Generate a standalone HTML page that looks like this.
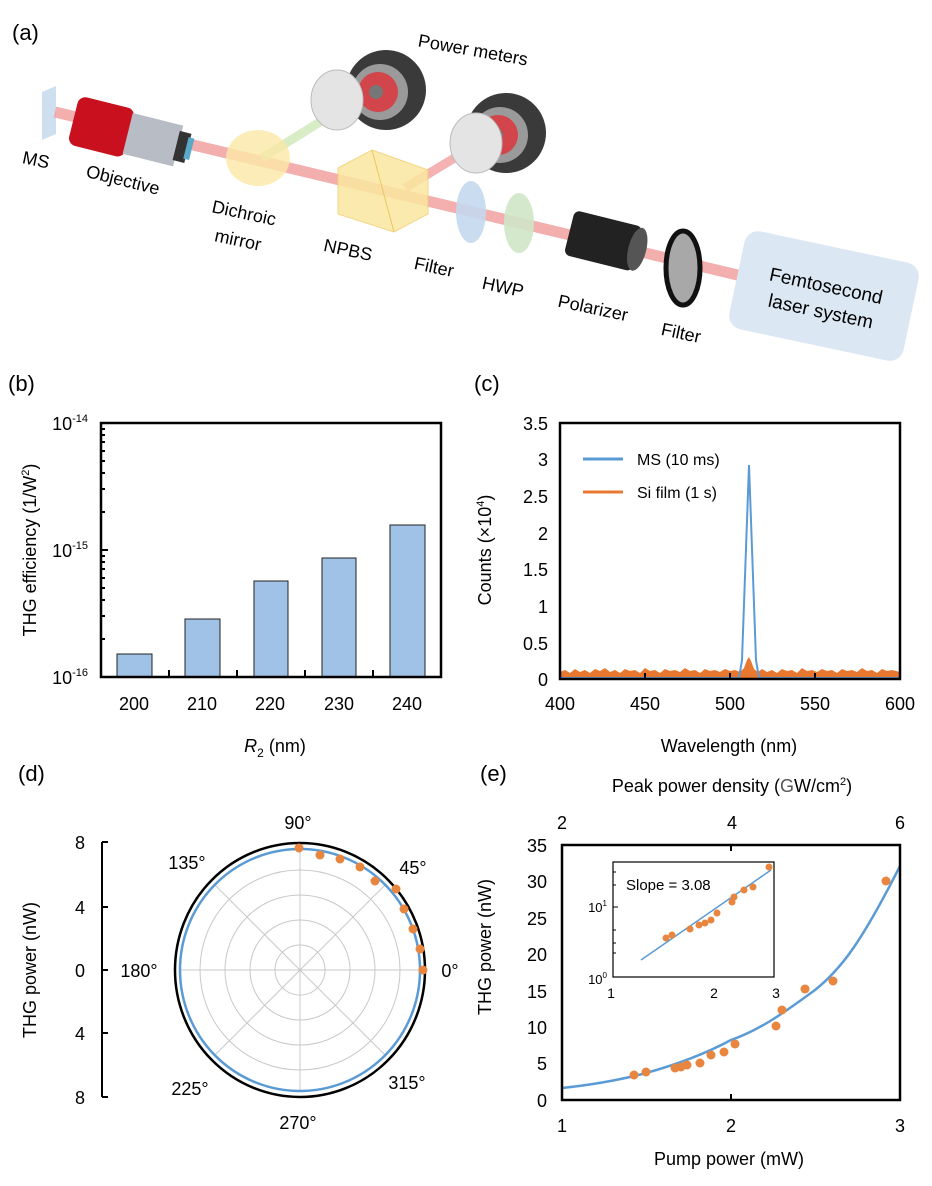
<!DOCTYPE html>
<html><head><meta charset="utf-8"><style>
body{margin:0;background:#fff}
svg{display:block;font-family:"Liberation Sans",Arial,sans-serif}
</style></head><body>
<svg width="932" height="1186" viewBox="0 0 932 1186" xmlns="http://www.w3.org/2000/svg">
<rect width="932" height="1186" fill="#fff"/>
<!-- (a) -->
<text x="12" y="40" font-size="22">(a)</text>
<g>
<polygon points="42,92 56,86 56,134 42,140" fill="#c9dbee" opacity="0.9"/>
<line x1="55" y1="112" x2="750" y2="278" stroke="#f2a0a0" stroke-width="11" opacity="0.85"/>
<line x1="262" y1="158" x2="352" y2="102" stroke="#cfe8b8" stroke-width="9" opacity="0.8"/>
<line x1="405" y1="188" x2="494" y2="134" stroke="#f2a0a0" stroke-width="9" opacity="0.8"/>
<g transform="rotate(14 110 130)">
<rect x="72" y="104" width="58" height="50" rx="8" fill="#c8101e"/>
<rect x="128" y="108" width="52" height="42" fill="#b8bcc4"/>
<rect x="178" y="114" width="12" height="30" fill="#333"/>
<rect x="188" y="118" width="6" height="22" fill="#5aa9c9"/>
</g>
<ellipse cx="258" cy="158" rx="32" ry="28" fill="#fbe9a6" opacity="0.8"/>
<circle cx="386" cy="90" r="40" fill="#3a3a3a"/><circle cx="380" cy="92" r="28" fill="#9a9a9a"/><circle cx="378" cy="92" r="20" fill="#d2454a"/><circle cx="376" cy="92" r="7" fill="#777"/>
<ellipse cx="337" cy="100" rx="26" ry="30" fill="#e4e4e4" stroke="#bbb"/>
<circle cx="506" cy="133" r="40" fill="#3a3a3a"/><circle cx="500" cy="135" r="28" fill="#9a9a9a"/><circle cx="498" cy="135" r="20" fill="#d2454a"/><circle cx="496" cy="135" r="7" fill="#777"/>
<ellipse cx="476" cy="143" rx="26" ry="30" fill="#e4e4e4" stroke="#bbb"/>
<polygon points="338,168 372,150 428,170 428,214 394,232 338,214" fill="#fbe7a0" opacity="0.85" stroke="#f0d070"/>
<line x1="372" y1="150" x2="394" y2="232" stroke="#e8c860"/>
<ellipse cx="471" cy="212" rx="15" ry="31" fill="#c4d8ee" opacity="0.9"/>
<ellipse cx="519" cy="223" rx="15" ry="30" fill="#cfe5c6" opacity="0.9"/>
<g transform="rotate(14 604 242)"><rect x="568" y="218" width="70" height="46" rx="6" fill="#222"/><ellipse cx="638" cy="241" rx="9" ry="22" fill="#555"/></g>
<ellipse cx="683" cy="268" rx="17" ry="37" fill="#a8a8a8" stroke="#111" stroke-width="5"/>
<g transform="rotate(12 824 296)"><rect x="735" y="246" width="178" height="100" rx="14" fill="#dbe7f3"/>
<text x="824" y="292" font-size="19" text-anchor="middle">Femtosecond</text>
<text x="824" y="318" font-size="19" text-anchor="middle">laser system</text></g>
</g>
<g font-size="18" text-anchor="middle">
<text x="36" y="166" transform="rotate(12 36 160)">MS</text>
<text x="123" y="186" transform="rotate(14 123 180)">Objective</text>
<text x="244" y="219" transform="rotate(12 244 213)">Dichroic</text>
<text x="238" y="246" transform="rotate(12 238 240)">mirror</text>
<text x="348" y="256" transform="rotate(12 348 250)">NPBS</text>
<text x="434" y="273" transform="rotate(12 434 267)">Filter</text>
<text x="503" y="293" transform="rotate(12 503 287)">HWP</text>
<text x="593" y="314" transform="rotate(12 593 308)">Polarizer</text>
<text x="681" y="339" transform="rotate(12 681 333)">Filter</text>
<text x="473" y="56" transform="rotate(10 473 50)">Power meters</text>
</g>

<!-- (b) -->
<text x="8" y="391" font-size="22">(b)</text>
<g fill="#9fc2e6" stroke="#222" stroke-width="1">
<rect x="117" y="654" width="35" height="23"/>
<rect x="185" y="619" width="35" height="58"/>
<rect x="254" y="581" width="34" height="96"/>
<rect x="322" y="558" width="34" height="119"/>
<rect x="390" y="525" width="35" height="152"/>
</g>
<rect x="101" y="423" width="340" height="254" fill="none" stroke="#000" stroke-width="2.5"/>
<g stroke="#000" stroke-width="2">
<line x1="169" y1="677" x2="169" y2="670"/><line x1="237" y1="677" x2="237" y2="670"/><line x1="305" y1="677" x2="305" y2="670"/><line x1="373" y1="677" x2="373" y2="670"/>
<line x1="101" y1="550" x2="108" y2="550"/>
<line x1="101" y1="639" x2="105" y2="639"/><line x1="101" y1="616" x2="105" y2="616"/><line x1="101" y1="600" x2="105" y2="600"/><line x1="101" y1="588" x2="105" y2="588"/><line x1="101" y1="578" x2="105" y2="578"/><line x1="101" y1="569" x2="105" y2="569"/><line x1="101" y1="562" x2="105" y2="562"/><line x1="101" y1="556" x2="105" y2="556"/>
<line x1="101" y1="512" x2="105" y2="512"/><line x1="101" y1="489" x2="105" y2="489"/><line x1="101" y1="473" x2="105" y2="473"/><line x1="101" y1="461" x2="105" y2="461"/><line x1="101" y1="451" x2="105" y2="451"/><line x1="101" y1="442" x2="105" y2="442"/><line x1="101" y1="435" x2="105" y2="435"/><line x1="101" y1="429" x2="105" y2="429"/>
</g>
<g font-size="18" text-anchor="end">
<text x="88" y="430">10<tspan font-size="11" dy="-8">-14</tspan></text>
<text x="88" y="557">10<tspan font-size="11" dy="-8">-15</tspan></text>
<text x="88" y="684">10<tspan font-size="11" dy="-8">-16</tspan></text>
</g>
<g font-size="18" text-anchor="middle">
<text x="134" y="710">200</text><text x="202" y="710">210</text><text x="270" y="710">220</text><text x="339" y="710">230</text><text x="407" y="710">240</text>
<text x="275" y="752"><tspan font-style="italic">R</tspan><tspan font-size="12" dy="5">2</tspan><tspan dy="-5"> (nm)</tspan></text>
<text transform="translate(36 550) rotate(-90)">THG efficiency (1/W<tspan font-size="11" dy="-7">2</tspan><tspan dy="7">)</tspan></text>
</g>

<!-- (c) -->
<text x="474" y="391" font-size="22">(c)</text>
<path d="M560,678 L560,672 L565,670 L570,673 L575,669 L580,672 L585,670 L590,673 L595,669 L600,671 L605,668 L610,672 L615,670 L620,673 L625,669 L630,671 L635,670 L640,673 L645,668 L650,671 L655,670 L660,673 L665,669 L670,671 L675,670 L680,672 L685,668 L690,671 L695,670 L700,673 L705,669 L710,671 L715,670 L720,672 L725,669 L730,671 L735,670 L740,672 L744,668 L747,660 L749,657 L751,661 L754,669 L758,672 L762,669 L767,672 L772,670 L777,673 L782,669 L787,671 L792,670 L797,673 L802,668 L807,671 L812,670 L817,672 L822,669 L827,671 L832,670 L837,673 L842,669 L847,671 L852,670 L857,672 L862,668 L867,671 L872,670 L877,673 L882,669 L887,671 L892,670 L900,672 L900,678 Z" fill="#e8782f"/>
<polyline points="560,678 739,678 742,660 749,465 756,660 759,678 900,678" fill="none" stroke="#5b9bd5" stroke-width="2"/>
<rect x="560" y="423" width="340" height="256" fill="none" stroke="#000" stroke-width="2.5"/>
<g stroke="#000" stroke-width="2">
<line x1="645" y1="679" x2="645" y2="673"/><line x1="730" y1="679" x2="730" y2="673"/><line x1="815" y1="679" x2="815" y2="673"/>
</g>
<g font-size="18" text-anchor="end">
<text x="548" y="430">3.5</text><text x="548" y="466">3</text><text x="548" y="503">2.5</text><text x="548" y="540">2</text><text x="548" y="576">1.5</text><text x="548" y="613">1</text><text x="548" y="650">0.5</text><text x="548" y="686">0</text>
</g>
<g font-size="18" text-anchor="middle">
<text x="560" y="710">400</text><text x="645" y="710">450</text><text x="730" y="710">500</text><text x="815" y="710">550</text><text x="900" y="710">600</text>
<text x="729" y="752">Wavelength (nm)</text>
<text transform="translate(491 550) rotate(-90)">Counts (×10<tspan font-size="11" dy="-7">4</tspan><tspan dy="7">)</tspan></text>
</g>
<line x1="583" y1="459" x2="623" y2="459" stroke="#5b9bd5" stroke-width="3"/>
<line x1="583" y1="492" x2="623" y2="492" stroke="#e8782f" stroke-width="3"/>
<text x="637" y="465" font-size="16">MS (10 ms)</text>
<text x="637" y="498" font-size="16">Si film (1 s)</text>

<!-- (d) -->
<text x="18" y="781" font-size="22">(d)</text>
<line x1="102" y1="842" x2="102" y2="1097" stroke="#000" stroke-width="2"/>
<g stroke="#000" stroke-width="2"><line x1="102" y1="842" x2="108" y2="842"/><line x1="102" y1="907" x2="108" y2="907"/><line x1="102" y1="970" x2="108" y2="970"/><line x1="102" y1="1033" x2="108" y2="1033"/><line x1="102" y1="1097" x2="108" y2="1097"/></g>
<g font-size="18" text-anchor="end"><text x="85" y="849">8</text><text x="85" y="914">4</text><text x="85" y="977">0</text><text x="85" y="1040">4</text><text x="85" y="1104">8</text></g>
<text transform="translate(36 970) rotate(-90)" font-size="18" text-anchor="middle">THG power (nW)</text>
<g fill="none" stroke="#c8c8c8" stroke-width="1">
<circle cx="300" cy="970" r="25"/><circle cx="300" cy="970" r="50"/><circle cx="300" cy="970" r="75"/><circle cx="300" cy="970" r="100"/>
<line x1="180" y1="970" x2="420" y2="970"/><line x1="300" y1="850" x2="300" y2="1090"/>
<line x1="215" y1="885" x2="385" y2="1055"/><line x1="385" y1="885" x2="215" y2="1055"/>
</g>
<ellipse cx="300" cy="970" rx="120" ry="121" fill="none" stroke="#5b9bd5" stroke-width="2.5"/>
<ellipse cx="300" cy="970" rx="125" ry="127" fill="none" stroke="#000" stroke-width="2.5"/>
<g fill="#e8863f">
<circle cx="299" cy="848" r="4.5"/><circle cx="320" cy="855" r="4.5"/><circle cx="340" cy="859" r="4.5"/><circle cx="360" cy="867" r="4.5"/><circle cx="375" cy="881" r="4.5"/><circle cx="396" cy="889" r="4.5"/><circle cx="404" cy="909" r="4.5"/><circle cx="413" cy="929" r="4.5"/><circle cx="420" cy="949" r="4.5"/><circle cx="423" cy="970" r="4.5"/>
</g>
<g font-size="18" text-anchor="middle">
<text x="298" y="829">90°</text><text x="187" y="869">135°</text><text x="413" y="874">45°</text><text x="139" y="977">180°</text><text x="450" y="977">0°</text><text x="190" y="1095">225°</text><text x="407" y="1089">315°</text><text x="298" y="1129">270°</text>
</g>

<!-- (e) -->
<text x="480" y="781" font-size="22">(e)</text>
<text x="732" y="792" font-size="18" text-anchor="middle">Peak power density (<tspan fill="#555">G</tspan>W/cm<tspan font-size="11" dy="-7">2</tspan><tspan dy="7">)</tspan></text>
<g font-size="18" text-anchor="middle"><text x="562" y="829">2</text><text x="732" y="829">4</text><text x="900" y="829">6</text>
<text x="562" y="1132">1</text><text x="731" y="1132">2</text><text x="900" y="1132">3</text>
<text x="729" y="1165">Pump power (mW)</text>
<text transform="translate(491 947) rotate(-90)">THG power (nW)</text></g>
<g font-size="18" text-anchor="end">
<text x="547" y="852">35</text><text x="547" y="888">30</text><text x="547" y="925">25</text><text x="547" y="961">20</text><text x="547" y="998">15</text><text x="547" y="1034">10</text><text x="547" y="1070">5</text><text x="547" y="1107">0</text>
</g>
<path d="M562,1088 C590,1085 620,1080 646,1073 C675,1065 705,1054 731,1040 C760,1030 785,1012 815,990 C840,970 860,945 900,866" fill="none" stroke="#5b9bd5" stroke-width="2.5"/>
<g fill="#e8863f">
<circle cx="634" cy="1075" r="4.5"/><circle cx="646" cy="1072" r="4.5"/><circle cx="675" cy="1068" r="4.5"/><circle cx="681" cy="1067" r="4.5"/><circle cx="687" cy="1065" r="4.5"/><circle cx="700" cy="1063" r="4.5"/><circle cx="711" cy="1055" r="4.5"/><circle cx="724" cy="1052" r="4.5"/><circle cx="735" cy="1044" r="4.5"/><circle cx="776" cy="1026" r="4.5"/><circle cx="782" cy="1010" r="4.5"/><circle cx="805" cy="989" r="4.5"/><circle cx="833" cy="981" r="4.5"/><circle cx="886" cy="881" r="4.5"/>
</g>
<rect x="562" y="845" width="338" height="255" fill="none" stroke="#000" stroke-width="2.5"/>
<g stroke="#000" stroke-width="2"><line x1="731" y1="1100" x2="731" y2="1094"/><line x1="731" y1="845" x2="731" y2="851"/></g>
<!-- inset -->
<rect x="613" y="862" width="161" height="115" fill="#fff" stroke="#000" stroke-width="1.2"/>
<line x1="641" y1="960" x2="771" y2="870" stroke="#5b9bd5" stroke-width="1.5"/>
<g fill="#e8863f">
<circle cx="666" cy="938" r="3.5"/><circle cx="672" cy="935" r="3.5"/><circle cx="690" cy="929" r="3.5"/><circle cx="699" cy="925" r="3.5"/><circle cx="705" cy="923" r="3.5"/><circle cx="711" cy="920" r="3.5"/><circle cx="717" cy="913" r="3.5"/><circle cx="732" cy="902" r="3.5"/><circle cx="734" cy="897" r="3.5"/><circle cx="744" cy="890" r="3.5"/><circle cx="753" cy="887" r="3.5"/><circle cx="769" cy="867" r="3.5"/>
</g>
<g stroke="#000" stroke-width="1"><line x1="613" y1="907" x2="618" y2="907"/><line x1="613" y1="930" x2="616" y2="930"/><line x1="613" y1="943" x2="616" y2="943"/><line x1="613" y1="953" x2="616" y2="953"/><line x1="613" y1="885" x2="616" y2="885"/><line x1="613" y1="872" x2="616" y2="872"/></g>
<text x="626" y="890" font-size="15">Slope = 3.08</text>
<g font-size="13" text-anchor="end"><text x="607" y="912">10<tspan font-size="8" dy="-6">1</tspan></text><text x="607" y="984">10<tspan font-size="8" dy="-6">0</tspan></text></g>
<g font-size="14" text-anchor="middle"><text x="611" y="998">1</text><text x="714" y="998">2</text><text x="776" y="998">3</text></g>
</svg>
</body></html>
